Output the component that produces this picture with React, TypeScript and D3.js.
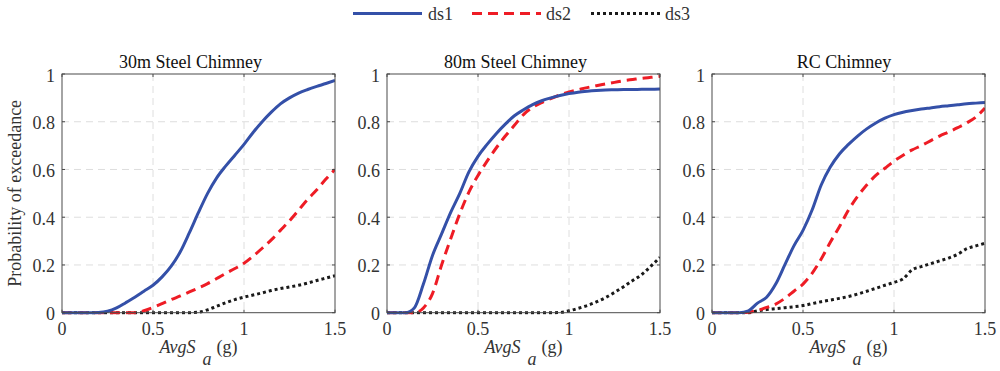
import React from "react";
import * as d3 from "d3";

// Spectral acceleration grid (g)
const avgSa = [
  0, 0.05, 0.1, 0.15, 0.2, 0.25, 0.3, 0.35, 0.4, 0.45, 0.5, 0.55, 0.6, 0.65, 0.7, 0.75,
  0.8, 0.85, 0.9, 0.95, 1.0, 1.05, 1.1, 1.15, 1.2, 1.25, 1.3, 1.35, 1.4, 1.45, 1.5,
];

const panelTitles = ["30m Steel Chimney", "80m Steel Chimney", "RC Chimney"];
const seriesNames = ["ds1", "ds2", "ds3"];

// 30m steel chimney fragility curves
const steel30Ds1 = [0, 0, 0, 0, 0.001, 0.006, 0.02, 0.042, 0.065, 0.09, 0.115, 0.15, 0.195, 0.255, 0.335, 0.42, 0.5, 0.565, 0.615, 0.66, 0.705, 0.755, 0.8, 0.84, 0.875, 0.9, 0.92, 0.935, 0.948, 0.96, 0.973];
const steel30Ds2 = [0, 0, 0, 0, 0, 0, 0, 0, 0, 0.008, 0.022, 0.038, 0.055, 0.07, 0.087, 0.104, 0.122, 0.143, 0.165, 0.185, 0.207, 0.237, 0.27, 0.305, 0.345, 0.385, 0.43, 0.475, 0.515, 0.56, 0.6];
const steel30Ds3 = [0, 0, 0, 0, 0, 0, 0, 0, 0, 0, 0, 0, 0, 0, 0, 0.002, 0.012, 0.027, 0.042, 0.055, 0.065, 0.074, 0.083, 0.093, 0.101, 0.108, 0.115, 0.124, 0.135, 0.145, 0.155];

// 80m steel chimney fragility curves
const steel80Ds1 = [0, 0, 0, 0.02, 0.12, 0.24, 0.33, 0.42, 0.5, 0.59, 0.655, 0.705, 0.75, 0.79, 0.825, 0.85, 0.872, 0.888, 0.9, 0.91, 0.918, 0.924, 0.928, 0.931, 0.933, 0.934, 0.935, 0.935, 0.936, 0.936, 0.937];
const steel80Ds2 = [0, 0, 0, 0, 0.02, 0.08, 0.2, 0.31, 0.415, 0.505, 0.575, 0.635, 0.69, 0.74, 0.785, 0.83, 0.86, 0.88, 0.897, 0.912, 0.925, 0.934, 0.943, 0.951, 0.958, 0.965, 0.972, 0.977, 0.982, 0.986, 0.99];
const steel80Ds3 = [0, 0, 0, 0, 0, 0, 0, 0, 0, 0, 0, 0, 0, 0, 0, 0, 0, 0, 0, 0.001, 0.008, 0.018, 0.03, 0.045, 0.063, 0.085, 0.109, 0.135, 0.16, 0.195, 0.232];

// RC chimney fragility curves
const rcDs1 = [0, 0, 0, 0, 0.008, 0.04, 0.065, 0.12, 0.2, 0.28, 0.345, 0.43, 0.535, 0.61, 0.665, 0.705, 0.74, 0.77, 0.795, 0.815, 0.83, 0.84, 0.847, 0.853, 0.858, 0.863, 0.867, 0.871, 0.875, 0.878, 0.881];
const rcDs2 = [0, 0, 0, 0, 0.002, 0.01, 0.022, 0.036, 0.06, 0.09, 0.12, 0.165, 0.225, 0.295, 0.36, 0.43, 0.487, 0.535, 0.575, 0.605, 0.635, 0.66, 0.682, 0.7, 0.72, 0.74, 0.757, 0.775, 0.795, 0.82, 0.857];
const rcDs3 = [0, 0, 0, 0, 0, 0.008, 0.013, 0.017, 0.021, 0.025, 0.03, 0.038, 0.046, 0.053, 0.06, 0.068, 0.078, 0.09, 0.102, 0.115, 0.127, 0.142, 0.18, 0.193, 0.205, 0.217, 0.229, 0.245, 0.268, 0.28, 0.291];

const panelSeries = [
  [steel30Ds1, steel30Ds2, steel30Ds3],
  [steel80Ds1, steel80Ds2, steel80Ds3],
  [rcDs1, rcDs2, rcDs3],
];

const xTicks = [0, 0.5, 1, 1.5];
const xTickLabels = ["0", "0.5", "1", "1.5"];
const yTicks = [0, 0.2, 0.4, 0.6, 0.8, 1];
const yTickLabels = ["0", "0.2", "0.4", "0.6", "0.8", "1"];

const styles = [
  { color: "#3450a8", dash: "none", width: 3 },
  { color: "#ee1c25", dash: "10,6", width: 3 },
  { color: "#1a1a1a", dash: "3,3", width: 3 },
];

const W = 1000;
const H = 371;
const panelLefts = [62, 387, 712];
const panelWidth = 273;
const plotTop = 74;
const plotBottom = 312.7;
const titleShift = [-8, -8, -4.5];
const font = "Liberation Serif, Times New Roman, Times, serif";
const axisColor = "#4a4a4a";
const textColor = "#333";

function Panel({ idx }: { idx: number }) {
  const left = panelLefts[idx];
  const x = d3.scaleLinear().domain([0, 1.5]).range([left, left + panelWidth]);
  const y = d3.scaleLinear().domain([0, 1]).range([plotBottom, plotTop]);
  const line = d3
    .line<number>()
    .x((_, i) => x(avgSa[i]))
    .y((v) => y(v))
    .curve(d3.curveMonotoneX);
  const clipId = `clip-${idx}`;
  const cx = left + panelWidth / 2;
  const tick = 3;
  return (
    <g>
      <defs>
        <clipPath id={clipId}>
          <rect x={left} y={plotTop - 2} width={panelWidth} height={plotBottom - plotTop + 4} />
        </clipPath>
      </defs>
      {/* grid */}
      {xTicks.slice(1, -1).map((t) => (
        <line key={`gx${t}`} x1={x(t)} x2={x(t)} y1={plotTop} y2={plotBottom} stroke="#dedede" strokeDasharray="7,5" strokeWidth={1} />
      ))}
      {yTicks.slice(1, -1).map((t) => (
        <line key={`gy${t}`} x1={left} x2={left + panelWidth} y1={y(t)} y2={y(t)} stroke="#dedede" strokeDasharray="7,5" strokeWidth={1} />
      ))}
      {/* curves */}
      <g clipPath={`url(#${clipId})`}>
        {panelSeries[idx]
          .map((vals, s) => ({ vals, s }))
          .reverse()
          .map(({ vals, s }) => (
            <path
              key={s}
              d={line(vals) || ""}
              fill="none"
              stroke={styles[s].color}
              strokeWidth={styles[s].width}
              strokeDasharray={styles[s].dash}
            />
          ))}
      </g>
      {/* box */}
      <rect x={left} y={plotTop} width={panelWidth} height={plotBottom - plotTop} fill="none" stroke={axisColor} strokeWidth={1} />
      {/* ticks */}
      {xTicks.map((t) => (
        <g key={`tx${t}`}>
          <line x1={x(t)} x2={x(t)} y1={plotBottom} y2={plotBottom - tick} stroke={axisColor} />
          <line x1={x(t)} x2={x(t)} y1={plotTop} y2={plotTop + tick} stroke={axisColor} />
        </g>
      ))}
      {yTicks.map((t) => (
        <g key={`ty${t}`}>
          <line x1={left} x2={left + tick} y1={y(t)} y2={y(t)} stroke={axisColor} />
          <line x1={left + panelWidth} x2={left + panelWidth - tick} y1={y(t)} y2={y(t)} stroke={axisColor} />
        </g>
      ))}
      {/* tick labels */}
      {xTicks.map((t, i) => (
        <text key={`lx${t}`} x={x(t)} y={plotBottom + 22} textAnchor="middle" fontSize={18} fill={textColor}>
          {xTickLabels[i]}
        </text>
      ))}
      {yTicks.map((t, i) => (
        <text key={`ly${t}`} x={left - 7} y={y(t) + 7.5} textAnchor="end" fontSize={18} fill={textColor}>
          {yTickLabels[i]}
        </text>
      ))}
      {/* title */}
      <text x={cx + titleShift[idx]} y={68} textAnchor="middle" fontSize={18} fill="#111">
        {panelTitles[idx]}
      </text>
      {/* x label */}
      <text x={cx} y={353} textAnchor="middle" fontSize={18} fill={textColor}>
        <tspan fontStyle="italic">AvgS</tspan>
        <tspan fontStyle="italic" dx={7} dy={12}>a</tspan>
        <tspan dx={5} dy={-12}>(g)</tspan>
      </text>
    </g>
  );
}

function Legend() {
  const items = [
    { x: 353, tx: 428 },
    { x: 472, tx: 546 },
    { x: 591, tx: 665 },
  ];
  const yMid = 13.5;
  return (
    <g>
      {items.map((it, s) => (
        <g key={s}>
          <line
            x1={it.x}
            x2={it.x + 69}
            y1={yMid}
            y2={yMid}
            stroke={styles[s].color}
            strokeWidth={styles[s].width}
            strokeDasharray={styles[s].dash}
          />
          <text x={it.tx} y={yMid + 6} fontSize={18} fill={textColor}>
            {seriesNames[s]}
          </text>
        </g>
      ))}
    </g>
  );
}

export default function App() {
  return (
    <div style={{ position: "absolute", left: 0, top: 0 }}>
      <svg width={W} height={H} style={{ display: "block", background: "#fff", fontFamily: font }}>
        <Legend />
        {[0, 1, 2].map((i) => (
          <Panel key={i} idx={i} />
        ))}
        <text
          transform={`translate(21, ${(plotTop + plotBottom) / 2}) rotate(-90)`}
          textAnchor="middle"
          fontSize={18}
          fill={textColor}
        >
          Probability of exceedance
        </text>
      </svg>
    </div>
  );
}
